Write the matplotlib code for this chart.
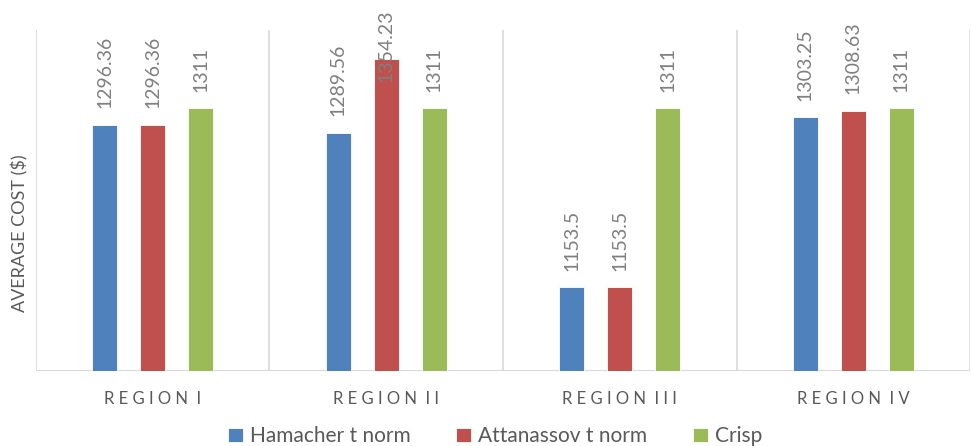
import matplotlib
matplotlib.use("Agg")
import matplotlib.pyplot as plt
import numpy as np

plt.rcParams['font.family'] = ['Lato', 'DejaVu Sans']

regions = ["REGION I", "REGION II", "REGION III", "REGION IV"]
series = ["Hamacher t norm", "Attanassov t norm", "Crisp"]
hamacher = [1296.36, 1289.56, 1153.5, 1303.25]
attanassov = [1296.36, 1354.23, 1153.5, 1308.63]
crisp = [1311, 1311, 1311, 1311]
colors = ["#4F81BD", "#C0504D", "#9BBB59"]

fig = plt.figure(figsize=(9.71, 4.46), dpi=100)
ax = fig.add_axes([0.037, 0.168, 0.962, 0.765])

x = np.arange(len(regions))
width = 0.107
step = 0.205
for i, (vals, name) in enumerate(zip([hamacher, attanassov, crisp], series)):
    pos = x + (i - 1) * step
    ax.bar(pos, vals, width, color=colors[i], label=name,
           edgecolor="white", linewidth=0.6, zorder=3)
    for p, v in zip(pos, vals):
        if v > 1340:
            # too tall for the space above: pin the label to the top edge
            ax.annotate(f"{v:g}", (p, 1 - 9 / 446),
                        xycoords=("data", "figure fraction"),
                        rotation=90, ha="center", va="top",
                        fontsize=14, color="#7F7F7F", zorder=4)
        else:
            ax.annotate(f"{v:g}", (p, v), xytext=(0, 12), textcoords="offset points",
                        rotation=90, ha="center", va="bottom",
                        fontsize=14, color="#7F7F7F", zorder=4)

ax.set_xlim(-0.5, len(regions) - 0.5)
ax.set_ylim(1080, 1380)

# category separators
for b in np.arange(-0.5, len(regions), 1.0):
    ax.axvline(b, color="#D9D9D9", linewidth=1.2, zorder=1)
ax.axhline(1080, color="#D9D9D9", linewidth=1.5, zorder=2)

for s in ax.spines.values():
    s.set_visible(False)
ax.set_yticks([])
ax.set_xticks(x)
ax.set_xticklabels(["  ".join(" ".join(w) for w in r.split()) for r in regions],
                   fontsize=12, color="#595959")
ax.tick_params(axis="x", length=0, pad=14)

fig.text(0.021, 1 - 233 / 446, "AVERAGE COST ($)", rotation=90,
         ha="center", va="center", fontsize=13, color="#595959")

fig.legend(loc="lower center", bbox_to_anchor=(0.51, -0.043), ncol=3,
           frameon=False, fontsize=15, labelcolor="#595959",
           handlelength=0.7, handleheight=0.7, handletextpad=0.35,
           columnspacing=2.2)

fig.savefig("out.png", dpi=100, facecolor="white")
